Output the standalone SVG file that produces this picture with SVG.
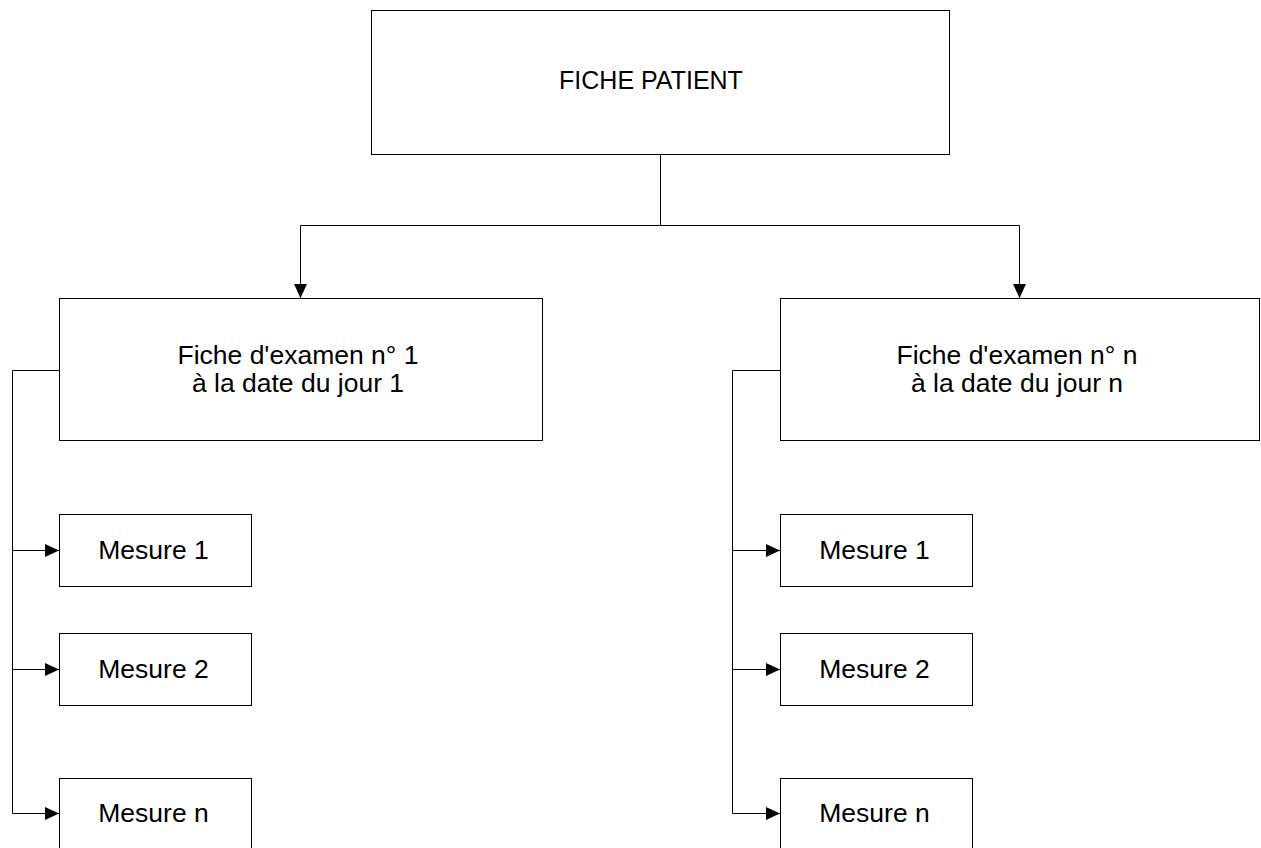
<svg xmlns="http://www.w3.org/2000/svg" width="1261" height="848" viewBox="0 0 1261 848">
<style>
.box{fill:#fff;stroke:#000;stroke-width:1}
.lbl{font-family:"Liberation Sans",Arial,sans-serif;font-size:26.5px;fill:#000;text-anchor:middle}
.title{font-size:25px}
.con{fill:none;stroke:#000;stroke-width:1}
</style>
<defs>
<marker id="arr" markerUnits="userSpaceOnUse" markerWidth="15" markerHeight="13" refX="14" refY="6.5" orient="auto">
<path d="M0,0 L14,6.5 L0,13 z" fill="#000"/>
</marker>
</defs>
<rect width="1261" height="848" fill="#fff"/>
<g id="connectors">
<path class="con" d="M660.5 154.5 V225.5"/>
<path class="con" d="M300.5 225.5 H1019.5"/>
<path class="con" d="M300.5 225.5 V298" marker-end="url(#arr)"/>
<path class="con" d="M1019.5 225.5 V298" marker-end="url(#arr)"/>
<path class="con" d="M59.5 370.5 H12.5 V813.5"/>
<path class="con" d="M12.5 550.5 H59" marker-end="url(#arr)"/>
<path class="con" d="M12.5 669.5 H59" marker-end="url(#arr)"/>
<path class="con" d="M12.5 813.5 H59" marker-end="url(#arr)"/>
<path class="con" d="M780.5 370.5 H732.5 V813.5"/>
<path class="con" d="M732.5 550.5 H780" marker-end="url(#arr)"/>
<path class="con" d="M732.5 669.5 H780" marker-end="url(#arr)"/>
<path class="con" d="M732.5 813.5 H780" marker-end="url(#arr)"/>
</g>
<g id="fiche-patient">
<rect class="box" x="371.5" y="10.5" width="578" height="144"/>
<text class="lbl title" x="651" y="89">FICHE PATIENT</text>
</g>
<g id="examen-1">
<rect class="box" x="59.5" y="298.5" width="483" height="142"/>
<text class="lbl" x="298" y="364">Fiche d'examen n° 1</text>
<text class="lbl" x="298" y="392">à la date du jour 1</text>
</g>
<g id="examen-n">
<rect class="box" x="780.5" y="298.5" width="479" height="142"/>
<text class="lbl" x="1017" y="364">Fiche d'examen n° n</text>
<text class="lbl" x="1017" y="392">à la date du jour n</text>
</g>
<g id="mesure-1-left">
<rect class="box" x="59.5" y="514.5" width="192" height="72"/>
<text class="lbl" x="153.5" y="559">Mesure 1</text>
</g>
<g id="mesure-2-left">
<rect class="box" x="59.5" y="633.5" width="192" height="72"/>
<text class="lbl" x="153.5" y="678">Mesure 2</text>
</g>
<g id="mesure-n-left">
<rect class="box" x="59.5" y="778.5" width="192" height="72"/>
<text class="lbl" x="153.5" y="822">Mesure n</text>
</g>
<g id="mesure-1-right">
<rect class="box" x="780.5" y="514.5" width="192" height="72"/>
<text class="lbl" x="874.5" y="559">Mesure 1</text>
</g>
<g id="mesure-2-right">
<rect class="box" x="780.5" y="633.5" width="192" height="72"/>
<text class="lbl" x="874.5" y="678">Mesure 2</text>
</g>
<g id="mesure-n-right">
<rect class="box" x="780.5" y="778.5" width="192" height="72"/>
<text class="lbl" x="874.5" y="822">Mesure n</text>
</g>
</svg>
